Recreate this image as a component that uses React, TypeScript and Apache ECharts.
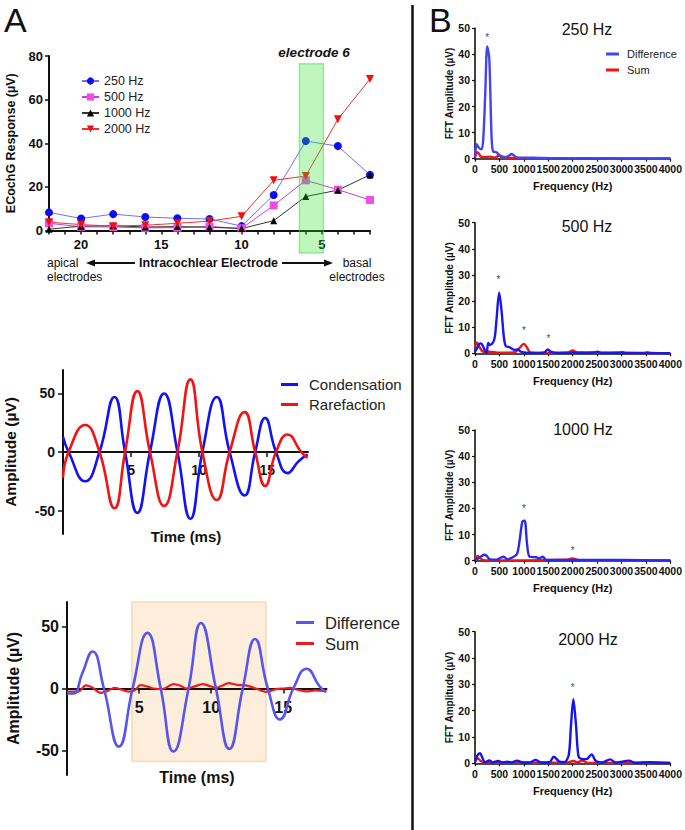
import React, { useEffect, useRef } from 'react';
import * as echarts from 'echarts';

const FONT = '"Liberation Sans", Arial, Helvetica, sans-serif';
const INK = '#111111';

// ---------- Panel A (top): ECochG response by electrode ----------
const electrodes = [22, 20, 18, 16, 14, 12, 10, 8, 6, 4, 2];
const resp250 = [8.3, 5.5, 7.5, 6.2, 5.6, 5.3, 2.0, 16.3, 41, 38.7, 25.5];
const resp500 = [3.3, 1.7, 1.6, 1.2, 1.3, 1.8, 1.0, 11.5, 23, 18.7, 14];
const resp1000 = [0.6, 2.0, 2.2, 1.6, 1.8, 1.5, 0.9, 4.5, 15.6, 18.5, 25.5];
const resp2000 = [3.8, 2.7, 2.0, 2.4, 3.3, 4.3, 6.5, 23, 25, 51, 69.5];
const electrodeLabelValues = [5, 10, 15, 20];
const electrodeTickValues = [2, 3, 4, 5, 6, 7, 8, 9, 10, 11, 12, 13, 14, 15, 16, 17, 18, 19, 20, 21, 22];
const highlightElectrodes = [6.4, 4.9];
const highlightResponse = [76.4, -10.3];

// ---------- Panel A (middle): condensation / rarefaction ----------
const condT = [0, 0.41, 1.63, 2.68, 3.78, 4.56, 5.46, 6.39, 7.43, 8.41, 9.36, 10.24, 11.3, 12.24, 13.34, 14.12, 14.85, 15.65, 16.5, 17.3, 17.97];
const condV = [13, 0, -25, 0, 47, 0, -52, 0, 50, 0, -57, 0, 47, 0, -37, 0, 29, 0, -18, -8, -2];
const rareT = [0, 0.41, 1.63, 2.68, 3.78, 4.56, 5.46, 6.39, 7.43, 8.41, 9.36, 10.24, 11.3, 12.24, 13.34, 14.12, 14.85, 15.65, 16.5, 17.5, 17.97];
const rareV = [-22, 0, 23, 0, -48, 0, 52, 0, -46, 0, 62, 0, -41, 0, 34, 0, -29, 0, 15, 0, -5];

// ---------- Panel A (bottom): difference / sum ----------
const diffT = [0, 0.45, 1.05, 1.77, 2.56, 3.6, 4.55, 5.58, 6.5, 7.38, 8.43, 9.29, 10.33, 11.26, 12.19, 13.04, 13.93, 14.78, 15.7, 16.63, 17.5, 17.96];
const diffV = [-4, -4, 12, 30, 0, -47, 0, 45, 0, -51, 0, 53, 0, -49, 0, 40, 0, -25, 0, 16, 2, -3];
const sumT = [0, 0.8, 1.3, 1.8, 2.3, 2.8, 3.3, 3.8, 4.3, 4.7, 5.1, 5.6, 6.0, 6.6, 7.4, 7.9, 8.3, 8.8, 9.4, 9.9, 10.3, 10.8, 11.2, 11.8, 12.4, 13.1, 13.8, 14.5, 15.0, 15.5, 16.0, 16.6, 17.2, 18];
const sumV = [-2.6, -2.5, 2.5, 0.5, -3.5, -2, 0.5, -1, -2.5, -1.5, 2.8, 1.5, 0, -0.5, 3.6, 2, 0, 1.5, 3.6, 2, 0.5, 2.5, 4.4, 3, 2.5, 0, -2.7, -0.5, 0, 0.5, -1, -2.4, -1.5, -2.2];
const steadyStateTime = [4.5, 13.8];
const steadyStateAmp = [70, -59];
const ampTickValues = [-50, 0, 50];
const timeTickValues = [5, 10, 15];

// ---------- Panel B: FFT ----------
const fftTitles = ['250 Hz', '500 Hz', '1000 Hz', '2000 Hz'];

const f250DiffHz = [0, 35, 80, 135, 170, 210, 250, 292, 340, 373, 440, 540, 620, 700, 746, 800, 860, 1000, 1300, 1600, 2000, 2500, 3000, 3500, 4000];
const f250DiffAmp = [0.8, 5.6, 4.2, 3.6, 7.8, 25, 43, 38.5, 8, 2.7, 2.5, 0.6, 0.5, 1.2, 1.8, 1.2, 0.4, 0.4, 0.3, 0.2, 0.2, 0.2, 0.1, 0.1, 0.1];
const f250SumHz = [0, 40, 80, 120, 200, 300, 400, 500, 560, 650, 800, 1000, 1500, 2000, 3000, 4000];
const f250SumAmp = [0.5, 2.5, 2.0, 0.8, 0.6, 0.8, 0.4, 1.2, 0.8, 0.4, 0.3, 0.2, 0.2, 0.2, 0.1, 0.1];
const f250Stars = [[251, 47.4]];

const f500DiffHz = [0, 50, 100, 140, 200, 237, 270, 305, 370, 407, 440, 495, 542, 590, 630, 712, 813, 880, 930, 1000, 1200, 1420, 1490, 1560, 1700, 2000, 2430, 2510, 2600, 3000, 3460, 3525, 3600, 4000];
const f500DiffAmp = [0.6, 2.2, 3.8, 3.5, 1.2, 0, 4, 3.2, 4.2, 6.4, 12.8, 23.2, 16.6, 6.4, 2.8, 2.3, 1.3, 1.5, 0.7, 0.3, 0.1, 0.3, 1.5, 0.5, 0.1, 0.2, 0.3, 0.6, 0.1, 0.1, 0.1, 0.3, 0.1, 0];
const f500SumHz = [0, 35, 90, 170, 300, 500, 800, 900, 1000, 1070, 1130, 1300, 1900, 2000, 2100, 2500, 2950, 3020, 3100, 4000];
const f500SumAmp = [2, 4.2, 2.5, 0.6, 0.6, 0.2, 0.3, 1.8, 3.6, 2, 0.3, 0.1, 0.3, 1.1, 0.3, 0.2, 0.3, 0.5, 0.1, 0];
const f500Stars = [[478, 29.3], [1000, 9.6], [1505, 6.6]];

const f1000DiffHz = [0, 68, 136, 190, 237, 305, 440, 542, 590, 658, 780, 860, 915, 970, 1017, 1065, 1119, 1254, 1308, 1390, 1458, 2000, 3000, 4000];
const f1000DiffAmp = [0.3, 0.9, 1.8, 2.3, 1.9, 0.5, 0.4, 1.3, 1.5, 0.5, 1.4, 2.5, 7.9, 15, 15.3, 6.6, 1.5, 1.3, 0.9, 1.5, 0.3, 0.3, 0.3, 0.1];
const f1000SumHz = [0, 54, 100, 170, 300, 1900, 2000, 2068, 2200, 4000];
const f1000SumAmp = [0.6, 1.8, 1.1, 0.2, 0.1, 0.4, 0.9, 0.5, 0.1, 0.1];
const f1000Stars = [[1000, 20.9], [2000, 5]];

const f2000DiffHz = [0, 47, 102, 156, 203, 292, 360, 475, 563, 658, 746, 861, 983, 1119, 1240, 1356, 1526, 1614, 1730, 1830, 1920, 1966, 2014, 2068, 2122, 2205, 2285, 2387, 2475, 2610, 2766, 2880, 3153, 3288, 3560, 4000];
const f2000DiffAmp = [0.6, 2.9, 3.8, 1.9, 0.3, 1.1, 0.3, 0.9, 0.3, 0.6, 0.3, 1.0, 0.3, 0.3, 1.3, 0.3, 0.4, 2.5, 0.6, 0.4, 3.2, 14.6, 24.4, 14.6, 2.5, 1.6, 1.6, 3.4, 0.9, 0.3, 1.5, 0.3, 1.0, 0.2, 0.4, 0.1];
const f2000SumHz = [0, 54, 115, 203, 305, 400, 1000, 1900, 2014, 2100, 2205, 2305, 4000];
const f2000SumAmp = [0.6, 1.9, 0.9, 0.4, 0.6, 0.3, 0.2, 0.3, 0.9, 0.4, 1.0, 0.2, 0.1];
const f2000Stars = [[2000, 29.7]];

const pts = (xs: number[], ys: number[]) => xs.map((x, i) => [x, ys[i]]);

const fftData = [
  { diff: pts(f250DiffHz, f250DiffAmp), sum: pts(f250SumHz, f250SumAmp), stars: f250Stars, blue: '#4343f0' },
  { diff: pts(f500DiffHz, f500DiffAmp), sum: pts(f500SumHz, f500SumAmp), stars: f500Stars, blue: '#1818ee' },
  { diff: pts(f1000DiffHz, f1000DiffAmp), sum: pts(f1000SumHz, f1000SumAmp), stars: f1000Stars, blue: '#2a2aee' },
  { diff: pts(f2000DiffHz, f2000DiffAmp), sum: pts(f2000SumHz, f2000SumAmp), stars: f2000Stars, blue: '#1414ee' },
];

const GRIDS = [
  { left: 49, top: 56, width: 321, height: 174.5 },
  { left: 63, top: 370, width: 245, height: 164 },
  { left: 67, top: 602, width: 259.5, height: 173 },
  { left: 475, top: 28.3, width: 197, height: 130.4 },
  { left: 475, top: 222.7, width: 197, height: 130.6 },
  { left: 475, top: 430, width: 197, height: 130.7 },
  { left: 475, top: 631.7, width: 197, height: 131.6 },
];

const boldLabel = (size: number, extra: any = {}) => ({
  fontFamily: FONT, fontWeight: 'bold', fontSize: size, color: INK, ...extra,
});

function buildOption(): any {
  const xAxis: any[] = [];
  const yAxis: any[] = [];
  const series: any[] = [];

  // Panel A top
  xAxis.push({
    gridIndex: 0, type: 'value', min: 2, max: 22, inverse: true,
    axisLine: { show: true, lineStyle: { color: INK, width: 2 } },
    axisTick: { show: true, customValues: electrodeTickValues, length: 4, lineStyle: { color: INK, width: 1.5 } },
    axisLabel: { customValues: electrodeLabelValues, margin: 7, ...boldLabel(13) },
    splitLine: { show: false },
  });
  yAxis.push({
    gridIndex: 0, type: 'value', min: 0, max: 80, interval: 20,
    axisLine: { show: true, lineStyle: { color: INK, width: 2 } },
    axisTick: { show: true, length: 4, lineStyle: { color: INK, width: 1.5 } },
    axisLabel: { margin: 6, ...boldLabel(13) },
    splitLine: { show: false },
    name: 'ECochG Response (µV)', nameLocation: 'middle', nameGap: 32,
    nameTextStyle: boldLabel(12.5),
  });
  const aSeries = [
    { name: '250 Hz', data: resp250, symbol: 'circle', size: 8, mark: '#0a0af5', line: '#7070f5' },
    { name: '500 Hz', data: resp500, symbol: 'rect', size: 8, mark: '#f050e0', line: '#c040e0' },
    { name: '1000 Hz', data: resp1000, symbol: 'triangle', size: 7, mark: '#000000', line: '#333333' },
    { name: '2000 Hz', data: resp2000, symbol: 'path://M0,0 L10,0 L5,9 Z', size: 8, mark: '#f01010', line: '#f03030' },
  ];
  aSeries.forEach((s) => {
    series.push({
      type: 'line', name: s.name, xAxisIndex: 0, yAxisIndex: 0,
      data: pts(electrodes, s.data), symbol: s.symbol, symbolSize: s.size,
      itemStyle: { color: s.mark }, lineStyle: { color: s.line, width: 1 },
      z: 3,
    });
  });

  // Middle & bottom waveform panels
  [1, 2].forEach((k) => {
    const big = k === 2 ? 16 : 14;
    xAxis.push({
      gridIndex: k, type: 'value', min: 0, max: 18, position: 'bottom',
      offset: -GRIDS[k].height / 2,
      axisLine: { show: true, onZero: false, lineStyle: { color: INK, width: 2 } },
      axisTick: { show: true, customValues: timeTickValues, length: 5, lineStyle: { color: INK, width: 1.5 } },
      axisLabel: { customValues: timeTickValues, margin: 11, ...boldLabel(big) },
      splitLine: { show: false },
    });
    yAxis.push({
      gridIndex: k, type: 'value', min: -70, max: 70,
      axisLine: { show: true, onZero: false, lineStyle: { color: INK, width: 2 } },
      axisTick: { show: true, customValues: ampTickValues, length: 5, lineStyle: { color: INK, width: 1.5 } },
      axisLabel: { customValues: ampTickValues, margin: 8, ...boldLabel(big) },
      splitLine: { show: false },
      name: 'Amplitude (µV)', nameLocation: 'middle', nameGap: k === 2 ? 46 : 45,
      nameTextStyle: boldLabel(k === 2 ? 16 : 15.5),
    });
  });
  series.push({
    type: 'line', name: 'Condensation', xAxisIndex: 1, yAxisIndex: 1, data: pts(condT, condV),
    smooth: 0.5, showSymbol: false, symbol: 'none', lineStyle: { color: '#1212f2', width: 2.6 }, itemStyle: { color: '#1212f2' }, z: 3,
  });
  series.push({
    type: 'line', name: 'Rarefaction', xAxisIndex: 1, yAxisIndex: 1, data: pts(rareT, rareV),
    smooth: 0.5, showSymbol: false, symbol: 'none', lineStyle: { color: '#f01414', width: 2.6 }, itemStyle: { color: '#f01414' }, z: 3,
  });
  series.push({
    type: 'line', name: 'Sum', xAxisIndex: 2, yAxisIndex: 2, data: pts(sumT, sumV),
    smooth: 0.3, showSymbol: false, symbol: 'none', lineStyle: { color: '#ee1c1c', width: 2.2 }, itemStyle: { color: '#ee1c1c' }, z: 3,
  });
  series.push({
    type: 'line', name: 'Difference', xAxisIndex: 2, yAxisIndex: 2, data: pts(diffT, diffV),
    smooth: 0.5, showSymbol: false, symbol: 'none', lineStyle: { color: '#5656ee', width: 2.6 }, itemStyle: { color: '#5656ee' }, z: 4,
  });

  // FFT panels
  fftData.forEach((p, i) => {
    const k = 3 + i;
    xAxis.push({
      gridIndex: k, type: 'value', min: 0, max: 4000, interval: 500,
      axisLine: { show: true, lineStyle: { color: INK, width: 1.6 } },
      axisTick: { show: true, length: 3, lineStyle: { color: INK, width: 1.2 } },
      axisLabel: {
        interval: 0, hideOverlap: false, showMinLabel: true, showMaxLabel: true, margin: 5,
        formatter: (v: number) => String(v), ...boldLabel(10.5),
      },
      splitLine: { show: false },
      name: 'Frequency (Hz)', nameLocation: 'middle', nameGap: 22,
      nameTextStyle: boldLabel(11),
    });
    yAxis.push({
      gridIndex: k, type: 'value', min: 0, max: 50, interval: 10,
      axisLine: { show: true, lineStyle: { color: INK, width: 1.6 } },
      axisTick: { show: true, length: 3, lineStyle: { color: INK, width: 1.2 } },
      axisLabel: { margin: 5, ...boldLabel(10.5) },
      splitLine: { show: false },
      name: 'FFT Amplitude (µV)', nameLocation: 'middle', nameGap: 21,
      nameTextStyle: boldLabel(10),
    });
    series.push({
      type: 'line', name: 'Sum', xAxisIndex: k, yAxisIndex: k, data: p.sum,
      smooth: 0.3, showSymbol: false, symbol: 'none', lineStyle: { color: '#ee1414', width: 2.4 }, itemStyle: { color: '#ee1414' }, z: 3,
    });
    series.push({
      type: 'line', name: 'Difference', xAxisIndex: k, yAxisIndex: k, data: p.diff,
      smooth: 0.3, showSymbol: false, symbol: 'none', lineStyle: { color: p.blue, width: 2.4 }, itemStyle: { color: p.blue }, z: 4,
    });
    series.push({
      type: 'scatter', name: 'marker' + i, xAxisIndex: k, yAxisIndex: k, data: p.stars,
      symbolSize: 1, itemStyle: { color: 'rgba(0,0,0,0)' }, silent: true, z: 5,
      label: {
        show: true, position: 'inside', formatter: '*', fontFamily: FONT, fontSize: 10,
        color: '#111111', textBorderWidth: 0, textBorderColor: 'transparent', offset: [0, 2.5],
      },
    });
  });

  const legendBase = {
    orient: 'vertical', icon: 'rect', itemHeight: 3, selectedMode: false,
  };

  return {
    animation: false,
    backgroundColor: '#ffffff',
    textStyle: { fontFamily: FONT },
    grid: GRIDS.map((g) => ({ ...g, containLabel: false })),
    xAxis, yAxis, series,
    legend: [
      {
        orient: 'vertical', left: 76, top: 69.5, itemWidth: 17, itemHeight: 9, itemGap: 3, selectedMode: false,
        data: ['250 Hz', '500 Hz', '1000 Hz', '2000 Hz'],
        textStyle: { fontFamily: FONT, fontSize: 12.5, color: '#222' },
      },
      {
        ...legendBase, left: 276, top: 372, itemWidth: 17, itemGap: 5,
        data: ['Condensation', 'Rarefaction'],
        textStyle: { fontFamily: FONT, fontSize: 15, color: '#222', padding: [0, 0, 0, 6] },
      },
      {
        ...legendBase, left: 291, top: 609, itemWidth: 18, itemGap: 4,
        data: [
          { name: 'Difference', itemStyle: { color: '#5656ee' } },
          { name: 'Sum', itemStyle: { color: '#ee1c1c' } },
        ],
        textStyle: { fontFamily: FONT, fontSize: 16.5, color: '#222', padding: [0, 0, 0, 6] },
      },
      {
        ...legendBase, left: 601, top: 43.5, itemWidth: 13, itemGap: 5,
        data: [
          { name: 'Difference', itemStyle: { color: '#4343f0' } },
          { name: 'Sum', itemStyle: { color: '#ee1414' } },
        ],
        textStyle: { fontFamily: FONT, fontSize: 11, color: '#222', padding: [0, 0, 0, 3] },
      },
    ],
  };
}

const txt = (id: string, text: string, x: number, y: number, font: string, align = 'left', z = 10) => ({
  type: 'text', id, x, y, z, silent: true,
  style: { text, font, fill: INK, align, verticalAlign: 'middle', textAlign: align, textVerticalAlign: 'middle' },
});

function buildGraphics(green: number[][], orange: number[][]): any[] {
  const titleFont = `normal 16px ${FONT}`;
  return [
    txt('labA', 'A', 4, 20, `normal 34px ${FONT}`),
    txt('labB', 'B', 429, 20, `normal 34px ${FONT}`),
    { type: 'line', id: 'divider', silent: true, z: 10, shape: { x1: 412.5, y1: 5, x2: 412.5, y2: 830 }, style: { stroke: INK, lineWidth: 2.5 } },
    txt('e6', 'electrode 6', 314, 52, `italic bold 13.5px ${FONT}`, 'center'),
    txt('apical', 'apical', 47, 263, `normal 12px ${FONT}`),
    txt('apicalE', 'electrodes', 47, 277, `normal 12px ${FONT}`),
    txt('basal', 'basal', 357, 263, `normal 12px ${FONT}`, 'center'),
    txt('basalE', 'electrodes', 357, 277, `normal 12px ${FONT}`, 'center'),
    txt('intra', 'Intracochlear Electrode', 208.5, 263, `bold 12.5px ${FONT}`, 'center'),
    { type: 'line', id: 'arrL', silent: true, shape: { x1: 93, y1: 263, x2: 135, y2: 263 }, style: { stroke: INK, lineWidth: 2 } },
    { type: 'polygon', id: 'arrLH', silent: true, shape: { points: [[86, 263], [95, 259.5], [95, 266.5]] }, style: { fill: INK } },
    { type: 'line', id: 'arrR', silent: true, shape: { x1: 282, y1: 263, x2: 326, y2: 263 }, style: { stroke: INK, lineWidth: 2 } },
    { type: 'polygon', id: 'arrRH', silent: true, shape: { points: [[333, 263], [324, 259.5], [324, 266.5]] }, style: { fill: INK } },
    txt('t250', fftTitles[0], 587, 29, titleFont, 'center'),
    txt('t500', fftTitles[1], 587, 226.7, titleFont, 'center'),
    txt('t1000', fftTitles[2], 583, 429.3, titleFont, 'center'),
    txt('t2000', fftTitles[3], 588, 639, titleFont, 'center'),
    txt('time1', 'Time (ms)', 186, 536, `bold 15px ${FONT}`, 'center'),
    txt('time2', 'Time (ms)', 197, 777.7, `bold 16px ${FONT}`, 'center'),
    {
      type: 'rect', id: 'greenBox', silent: true, z: 100,
      shape: { x: green[0][0], y: green[0][1], width: green[1][0] - green[0][0], height: green[1][1] - green[0][1] },
      style: { fill: 'rgba(40,225,40,0.3)', stroke: 'rgba(60,210,60,0.45)', lineWidth: 1.5 },
    },
    {
      type: 'rect', id: 'orangeBox', silent: true, z: -1,
      shape: { x: orange[0][0], y: orange[0][1], width: orange[1][0] - orange[0][0], height: orange[1][1] - orange[0][1] },
      style: { fill: 'rgba(251,222,190,0.55)', stroke: 'rgba(246,210,170,0.8)', lineWidth: 1.5 },
    },
  ];
}

export default function App() {
  const ref = useRef<HTMLDivElement>(null);
  useEffect(() => {
    if (!ref.current) return;
    const chart = echarts.init(ref.current, null, { renderer: 'svg' });
    chart.setOption(buildOption());
    const g0 = chart.convertToPixel({ gridIndex: 0 }, [highlightElectrodes[0], highlightResponse[0]]) as number[];
    const g1 = chart.convertToPixel({ gridIndex: 0 }, [highlightElectrodes[1], highlightResponse[1]]) as number[];
    const o0 = chart.convertToPixel({ gridIndex: 2 }, [steadyStateTime[0], steadyStateAmp[0]]) as number[];
    const o1 = chart.convertToPixel({ gridIndex: 2 }, [steadyStateTime[1], steadyStateAmp[1]]) as number[];
    chart.setOption({ graphic: buildGraphics([g0, g1], [o0, o1]) });
    return () => chart.dispose();
  }, []);
  return (
    <div
      ref={ref}
      style={{ position: 'absolute', left: 0, top: 0, width: 685, height: 830, background: '#ffffff' }}
    />
  );
}
